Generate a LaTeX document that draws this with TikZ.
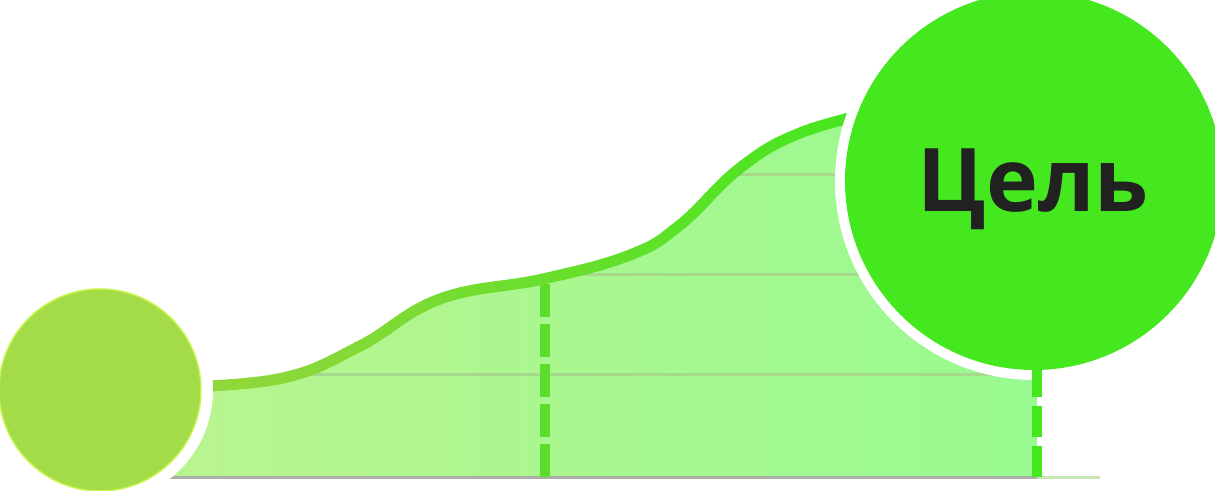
\documentclass[tikz,border=0pt]{standalone}
\usepackage{fontspec}
\setmainfont{Open Sans}
\usetikzlibrary{positioning}
\definecolor{areaL}{HTML}{BAF48F}
\definecolor{areaR}{HTML}{98FA90}
\definecolor{gridc}{HTML}{A6D98B}
\definecolor{basec}{HTML}{ACAFA6}
\definecolor{basetail}{HTML}{C8E6B2}
\definecolor{curveL}{HTML}{94D63C}
\definecolor{curveR}{HTML}{44E61E}
\definecolor{dashc}{HTML}{5CDC2C}
\definecolor{goalgreen}{HTML}{45E81F}
\definecolor{startgreen}{HTML}{A3DC48}
\definecolor{startedge}{HTML}{C8F54C}
\definecolor{inkc}{HTML}{212121}
\tikzset{%
    gridline/.style={gridc, line width=0.03cm},
    dropline/.style={line width=0.095cm},
    ring/.style={fill=white}
}

\begin{document}
\begin{tikzpicture}
  \useasboundingbox (0,0) rectangle (12.15,4.91);
  \coordinate (startc) at (1.00,1.01);
  \coordinate (goalc) at (10.34,3.10);
  \coordinate (midfoot) at (5.45,0.14);
  \coordinate (goalfoot) at (10.37,0.14);
  % area under the curve
  \shade[left color=areaL, right color=areaR] (1.5,0.13) -- (1.5,1.04) -- plot[smooth,tension=0.7] coordinates {(1.80,1.04) (2.83,1.13) (3.60,1.45) (4.40,1.92) (5.43,2.12) (6.30,2.36) (6.80,2.66) (7.40,3.23) (8.00,3.58) (8.80,3.80)} -- (10.37,3.80) -- (10.37,0.13) -- cycle;
  \begin{scope}
    \clip (1.5,0.13) -- (1.5,1.04) -- plot[smooth,tension=0.7] coordinates {(1.80,1.04) (2.83,1.13) (3.60,1.45) (4.40,1.92) (5.43,2.12) (6.30,2.36) (6.80,2.66) (7.40,3.23) (8.00,3.58) (8.80,3.80)} -- (10.37,3.80) -- (10.37,0.13) -- cycle;
    \foreach \y in {1.16,2.16,3.16}
      \draw[gridline] (1.5,\y) -- (10.4,\y);
  \end{scope}
  \draw[basec, line width=0.03cm] (1.6,0.13) -- (10.37,0.13);
  \draw[basetail, line width=0.03cm] (10.37,0.13) -- (11.0,0.13);
  \draw[dropline, dashc, dash pattern=on 0.33cm off 0.07cm] (midfoot) -- (5.45,2.12);
  % the curve, darker towards the goal
  \foreach \i in {0,...,19}{
    \pgfmathsetmacro\xa{1.8+0.35*\i}
    \pgfmathtruncatemacro\pc{100*\i/19}
    \begin{scope}
      \clip (\xa-0.01,0) rectangle (\xa+0.36,4.91);
      \draw[line width=0.11cm, curveR!\pc!curveL] plot[smooth,tension=0.7] coordinates {(1.80,1.04) (2.83,1.13) (3.60,1.45) (4.40,1.92) (5.43,2.12) (6.30,2.36) (6.80,2.66) (7.40,3.23) (8.00,3.58) (8.80,3.80)};
    \end{scope}
  }
  \fill[ring] (startc) circle (1.13);
  \fill[ring] (goalc) circle (1.99);
  \node[circle, fill=startgreen, draw=startedge, line width=0.015cm, minimum size=2.02cm, inner sep=0pt] (start) at (startc) {};
  \draw[dropline, goalgreen, dash pattern=on 0.31cm off 0.09cm] (goalfoot) -- (goalfoot |- goalc);
  \node[circle, fill=goalgreen, minimum size=3.78cm, inner sep=0pt] (goal) at (goalc) {};
  \node[anchor=base, text=inkc, font=\bfseries\fontsize{25}{30}\selectfont] (goallabel) at (10.33,2.79) {Цель};
\end{tikzpicture}
\end{document}
